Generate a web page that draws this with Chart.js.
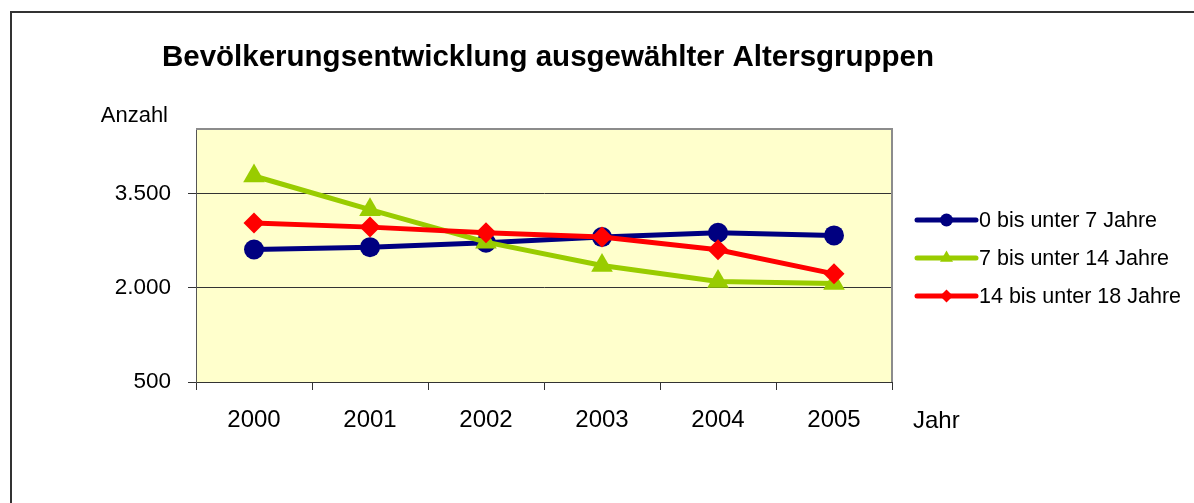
<!DOCTYPE html>
<html lang="de">
<head>
<meta charset="utf-8">
<title>Bevölkerungsentwicklung</title>
<script src="https://cdn.jsdelivr.net/npm/chart.js@4.4.1/dist/chart.umd.min.js"></script>
<style>
  html, body { margin: 0; padding: 0; background: #fff; overflow: hidden; }
  #frame {
    position: absolute; left: 10px; top: 11px;
    width: 1300px; height: 600px;
    border-left: 2px solid #333; border-top: 2px solid #333;
  }
  #wrap { position: absolute; left: 0; top: 0; width: 1194px; height: 503px; }
</style>
</head>
<body>
<div id="frame"></div>
<div id="wrap"><canvas id="chart" width="1194" height="503"></canvas></div>
<script>
const years = ["2000", "2001", "2002", "2003", "2004", "2005"];
const age0to7 = [2611, 2648, 2718, 2808, 2878, 2835];
const age7to14 = [3781, 3245, 2728, 2356, 2100, 2070];
const age14to18 = [3031, 2967, 2878, 2808, 2606, 2223];
const yTicks = [500, 2000, 3500];
const yTickLabels = ["500", "2.000", "3.500"];

const FONT = "'Liberation Sans', Arial, sans-serif";
Chart.defaults.font.family = FONT;
Chart.defaults.color = "#000";

const series = [
  { label: "0 bis unter 7 Jahre", data: age0to7, color: "#000080", style: "circle", radius: 10, legendRadius: 6.5, order: 2 },
  { label: "7 bis unter 14 Jahre", data: age7to14, color: "#99CC00", style: "triangle", radius: 12.5, legendRadius: 7.5, order: 1 },
  { label: "14 bis unter 18 Jahre", data: age14to18, color: "#FF0000", style: "rectRot", radius: 10.5, legendRadius: 6.5, order: 0 },
];

const chartDecor = {
  id: "chartDecor",
  beforeDraw(chart) {
    const { ctx, chartArea: a } = chart;
    ctx.save();
    ctx.fillStyle = "#FFFFCC";
    ctx.fillRect(a.left, a.top, a.right - a.left, a.bottom - a.top);
    ctx.restore();
  },
  beforeDatasetsDraw(chart) {
    const { ctx, chartArea: a } = chart;
    ctx.save();
    ctx.strokeStyle = "#8c8c8c";
    ctx.lineWidth = 2;
    ctx.beginPath();
    ctx.moveTo(a.left, a.top);
    ctx.lineTo(a.right, a.top);
    ctx.lineTo(a.right, a.bottom);
    ctx.stroke();
    ctx.restore();
  },
  afterDraw(chart) {
    const { ctx, chartArea: a } = chart;
    ctx.save();
    // title
    ctx.fillStyle = "#000";
    ctx.font = `bold 29.5px ${FONT}`;
    ctx.textAlign = "center";
    ctx.textBaseline = "alphabetic";
    ctx.fillText("Bevölkerungsentwicklung ausgewählter Altersgruppen", (a.left + a.right) / 2 + 4, 66);

    // axis titles
    ctx.font = `22px ${FONT}`;
    ctx.textAlign = "right";
    ctx.fillText("Anzahl", a.left - 28, 122);
    ctx.font = `24px ${FONT}`;
    ctx.textAlign = "left";
    ctx.fillText("Jahr", a.right + 21, 428);

    // legend
    const x0 = a.right + 25;
    const len = 59;
    series.forEach((s, i) => {
      const y = 220 + i * 38;
      ctx.strokeStyle = s.color;
      ctx.lineWidth = 5;
      ctx.lineCap = "round";
      ctx.beginPath();
      ctx.moveTo(x0, y);
      ctx.lineTo(x0 + len, y);
      ctx.stroke();
      ctx.fillStyle = s.color;
      Chart.helpers.drawPoint(ctx, { pointStyle: s.style, radius: s.legendRadius, borderWidth: 0 }, x0 + len / 2, y);
      ctx.fillStyle = "#000";
      ctx.textAlign = "left";
      ctx.textBaseline = "middle";
      ctx.font = `21.5px ${FONT}`;
      ctx.fillText(s.label, x0 + len + 3, y + 1);
    });
    ctx.restore();
  },
};

new Chart(document.getElementById("chart"), {
  type: "line",
  data: {
    labels: years,
    datasets: series.map((s) => ({
      label: s.label,
      data: s.data,
      borderColor: s.color,
      backgroundColor: s.color,
      pointBackgroundColor: s.color,
      pointBorderColor: s.color,
      pointBorderWidth: 0,
      borderWidth: 5,
      pointStyle: s.style,
      pointRadius: s.radius,
      tension: 0,
      order: s.order,
    })),
  },
  options: {
    responsive: false,
    animation: false,
    layout: { padding: { top: 129, right: 302, left: 0, bottom: 0 } },
    plugins: {
      legend: { display: false },
      title: { display: false },
      tooltip: { enabled: false },
    },
    scales: {
      x: {
        offset: true,
        grid: { offset: true, drawOnChartArea: false, color: "#333", tickLength: 8 },
        border: { display: true, color: "#333", width: 1 },
        ticks: { font: { size: 24 }, padding: 16, color: "#000", maxRotation: 0 },
        afterFit(scale) { scale.height = 121; },
      },
      y: {
        min: 500,
        max: 4530,
        afterBuildTicks(scale) { scale.ticks = yTicks.map((v) => ({ value: v })); },
        grid: { color: "#333", tickLength: 8, lineWidth: 1 },
        border: { display: true, color: "#555", width: 1 },
        ticks: {
          font: { size: 22.5 },
          padding: 17,
          color: "#000",
          callback: (v) => yTickLabels[yTicks.indexOf(v)],
        },
        afterFit(scale) { scale.width = 196; },
      },
    },
  },
  plugins: [chartDecor],
});
</script>
</body>
</html>
